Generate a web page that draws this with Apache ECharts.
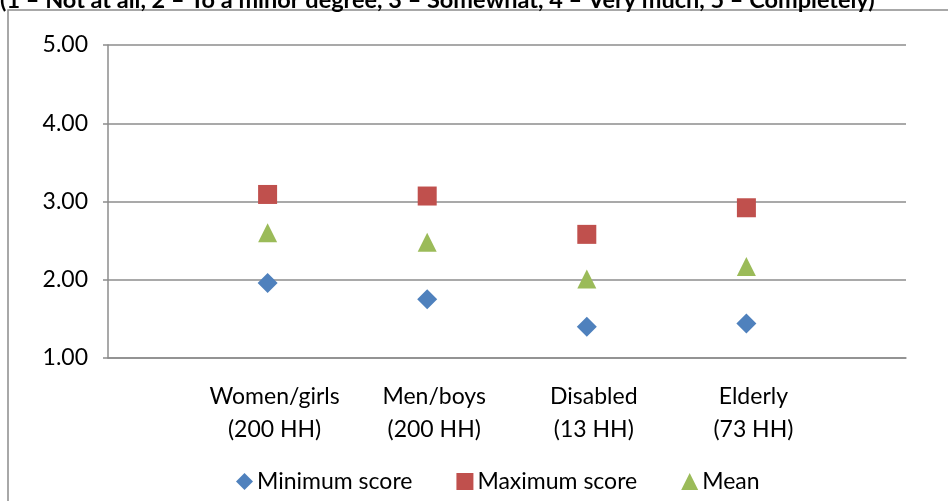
<!DOCTYPE html>
<html>
<head>
<meta charset="utf-8">
<script src="https://cdn.jsdelivr.net/npm/echarts@6/dist/echarts.min.js"></script>
<style>
  html, body { margin: 0; padding: 0; background: #ffffff; }
  #chart { width: 948px; height: 501px; }
</style>
</head>
<body>
<div id="chart"></div>
<script>
// Household groups shown along the horizontal axis
const categories = ['Women/girls\n(200 HH)', 'Men/boys\n(200 HH)', 'Disabled\n(13 HH)', 'Elderly\n(73 HH)'];
// Scores per group
const minimumScore = [1.96, 1.75, 1.40, 1.44];
const maximumScore = [3.09, 3.07, 2.58, 2.92];
const meanScore = [2.60, 2.48, 2.01, 2.17];
// Vertical axis tick labels
const yTicks = ['1.00', '2.00', '3.00', '4.00', '5.00'];

const scaleNote = '(1 – Not at all, 2 – To a minor degree, 3 – Somewhat, 4 – Very much, 5 – Completely)';

const FONT = 'Lato, "Open Sans", sans-serif';
const GRAY = '#8c8c8c';

// Groups sit at positions 1..4 on a 0..5 horizontal scale
const toPoints = arr => arr.map((v, i) => [i + 1, v]);

const chart = echarts.init(document.getElementById('chart'), null, { renderer: 'canvas' });

chart.setOption({
  backgroundColor: '#ffffff',
  animation: false,
  textStyle: { fontFamily: FONT },
  graphic: [
    {
      type: 'rect',
      shape: { x: 8, y: 10, width: 1200, height: 800 },
      style: { fill: 'none', stroke: GRAY, lineWidth: 1.5 },
      silent: true
    },
    {
      type: 'text',
      x: 0,
      y: 12,
      style: {
        text: scaleNote,
        font: 'bold 23.5px ' + FONT,
        fill: '#000000',
        textVerticalAlign: 'bottom'
      },
      silent: true
    }
  ],
  grid: { left: 108, right: 42, top: 45, bottom: 143, containLabel: false },
  legend: {
    left: 231,
    top: 465,
    itemWidth: 17,
    itemHeight: 17,
    itemGap: 44,
    textStyle: { fontSize: 23, color: '#000000', fontFamily: FONT, padding: [0, 0, 0, -1] },
    data: [
      { name: 'Minimum score', icon: 'diamond' },
      { name: 'Maximum score', icon: 'rect' },
      { name: 'Mean', icon: 'triangle' }
    ]
  },
  xAxis: {
    type: 'value',
    min: 0,
    max: 5,
    interval: 1,
    axisLine: { show: true, lineStyle: { color: GRAY, width: 1.5 } },
    axisTick: { show: false },
    splitLine: { show: false },
    axisLabel: {
      margin: 22,
      fontSize: 23,
      lineHeight: 33,
      color: '#000000',
      padding: [0, 0, 0, 14],
      formatter: v => (v >= 1 && v <= categories.length) ? categories[v - 1] : ''
    }
  },
  yAxis: {
    type: 'value',
    min: 1,
    max: 5,
    interval: 1,
    axisLine: { show: true, lineStyle: { color: GRAY, width: 1.5 } },
    axisTick: { show: true, length: 5, lineStyle: { color: GRAY, width: 1.5 } },
    splitLine: { show: true, lineStyle: { color: GRAY, width: 1.5 } },
    axisLabel: {
      margin: 20,
      fontSize: 23,
      color: '#000000',
      formatter: v => yTicks[Math.round(v) - 1] || ''
    }
  },
  series: [
    {
      name: 'Minimum score',
      type: 'scatter',
      symbol: 'diamond',
      symbolSize: [20, 20],
      itemStyle: { color: '#4f81bd', opacity: 1 },
      data: toPoints(minimumScore)
    },
    {
      name: 'Maximum score',
      type: 'scatter',
      symbol: 'rect',
      symbolSize: [19, 19],
      itemStyle: { color: '#c0504d', opacity: 1 },
      data: toPoints(maximumScore)
    },
    {
      name: 'Mean',
      type: 'scatter',
      symbol: 'triangle',
      symbolSize: [19, 19],
      itemStyle: { color: '#9bbb59', opacity: 1 },
      data: toPoints(meanScore)
    }
  ]
});
</script>
</body>
</html>
